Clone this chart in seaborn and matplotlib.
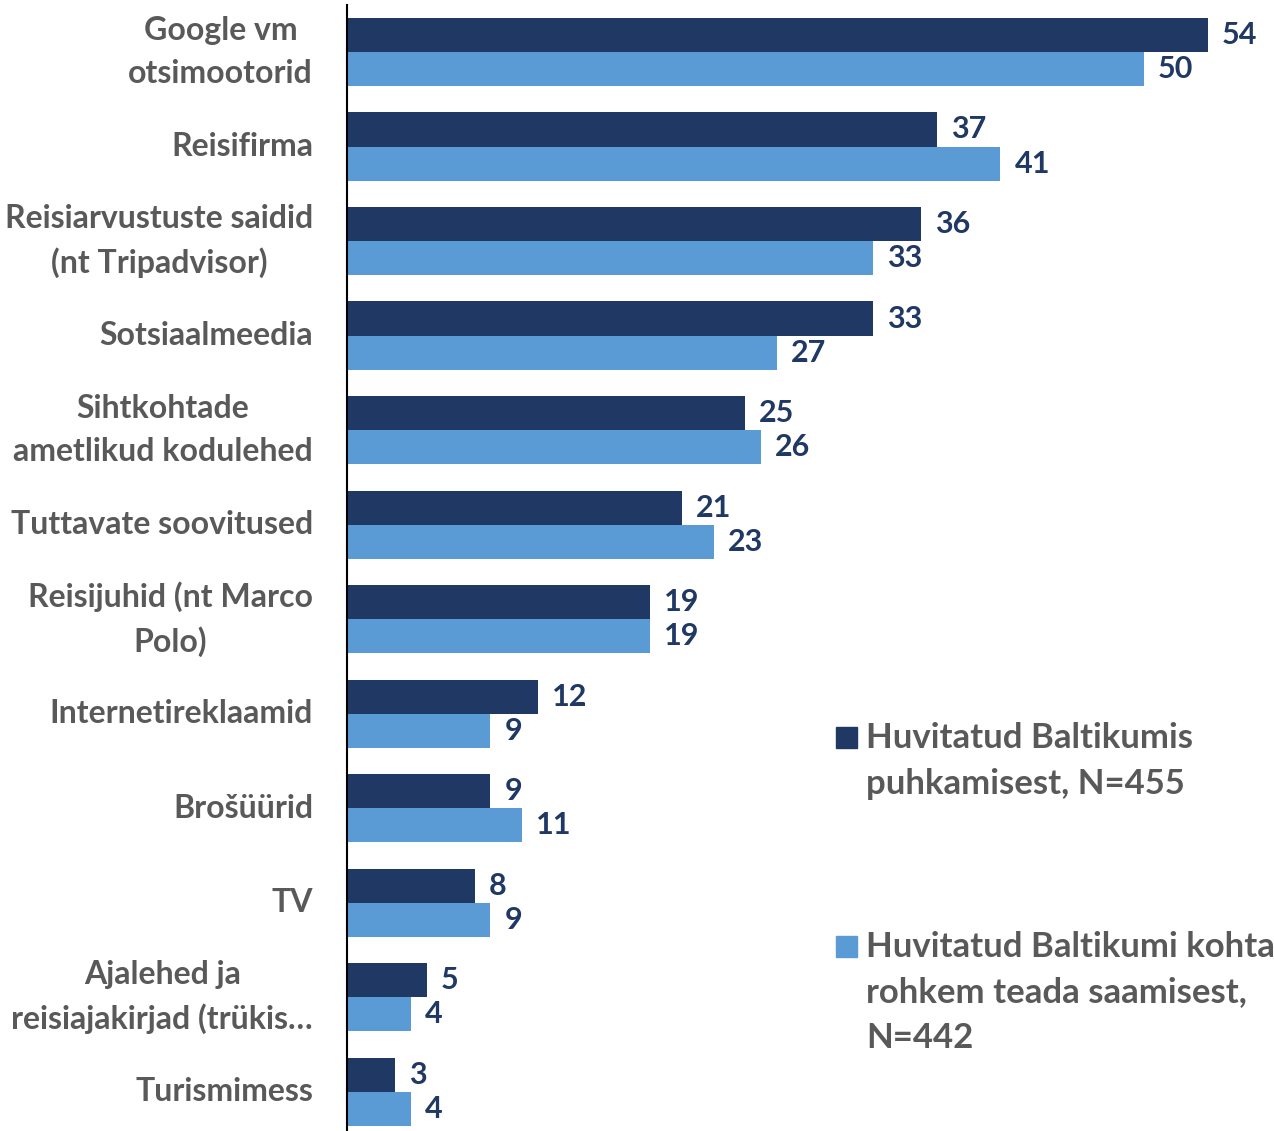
import pandas as pd
import numpy as np
import matplotlib.pyplot as plt
import seaborn as sns
from matplotlib.patches import Rectangle
import matplotlib.transforms as mtransforms

# Chart data
categories = [
    "Google vm\notsimootorid",
    "Reisifirma",
    "Reisiarvustuste saidid\n(nt Tripadvisor)",
    "Sotsiaalmeedia",
    "Sihtkohtade\nametlikud kodulehed",
    "Tuttavate soovitused",
    "Reisijuhid (nt Marco\nPolo)",
    "Internetireklaamid",
    "Brošüürid",
    "TV",
    "Ajalehed ja\nreisiajakirjad (trükis…",
    "Turismimess",
]
series_names = [
    "Huvitatud Baltikumis\npuhkamisest, N=455",
    "Huvitatud Baltikumi kohta\nrohkem teada saamisest,\nN=442",
]
vals_holiday = [54, 37, 36, 33, 25, 21, 19, 12, 9, 8, 5, 3]
vals_learn = [50, 41, 33, 27, 26, 23, 19, 9, 11, 9, 4, 4]

df = pd.DataFrame({
    "kanal": categories * 2,
    "grupp": [series_names[0]] * len(categories) + [series_names[1]] * len(categories),
    "osakaal": vals_holiday + vals_learn,
})

dark = "#203864"
light = "#5B9BD5"
grey = "#595959"

sns.set_style("white")
plt.rcParams["font.family"] = ["Lato", "DejaVu Sans"]

W, H = 1274, 1131
fig = plt.figure(figsize=(W / 100, H / 100), dpi=100)
ax = fig.add_axes([347 / W, -0.0069, 0.72, 1 - 4.75 / H + 0.0069])

sns.barplot(data=df, y="kanal", x="osakaal", hue="grupp", orient="h",
            palette=[dark, light], width=0.72, ax=ax, legend=False,
            saturation=1, edgecolor="none")

for cont in ax.containers:
    ax.bar_label(cont, padding=10, fontsize=22, fontweight="bold", color=dark)

ax.set_xlim(0, 57.55)
ax.set_xlabel("")
ax.set_ylabel("")
ax.set_xticks([])
ax.set_yticks(range(len(categories)))
ax.set_yticklabels([])
ax.tick_params(axis="y", length=0)

# category labels, right aligned left of the axis line
lab_tr = mtransforms.blended_transform_factory(ax.transAxes, ax.transData)
lab_tr = lab_tr + mtransforms.ScaledTranslation(-34 / 100, 0, fig.dpi_scale_trans)
for i, cat in enumerate(categories):
    ax.text(0, i, cat, transform=lab_tr, ha="right", va="center",
            multialignment="center", fontsize=23, fontweight="bold",
            color=grey, linespacing=1.55)

for side in ["top", "right", "bottom"]:
    ax.spines[side].set_visible(False)
ax.spines["left"].set_color("black")
ax.spines["left"].set_linewidth(1.5)

# legend: square beside the first line of each entry
leg_x, sq, pitch = 836, 21, 45.5
for name, color, base in zip(series_names, [dark, light], [748, 957]):
    fig.patches.append(Rectangle((leg_x / W, 1 - base / H), sq / W, sq / H,
                                 transform=fig.transFigure, color=color))
    for k, line in enumerate(name.split("\n")):
        fig.text(866 / W, 1 - (base + k * pitch) / H, line, ha="left",
                 va="baseline", fontsize=25, fontweight="bold", color=grey)

fig.savefig("out.png", dpi=100)
